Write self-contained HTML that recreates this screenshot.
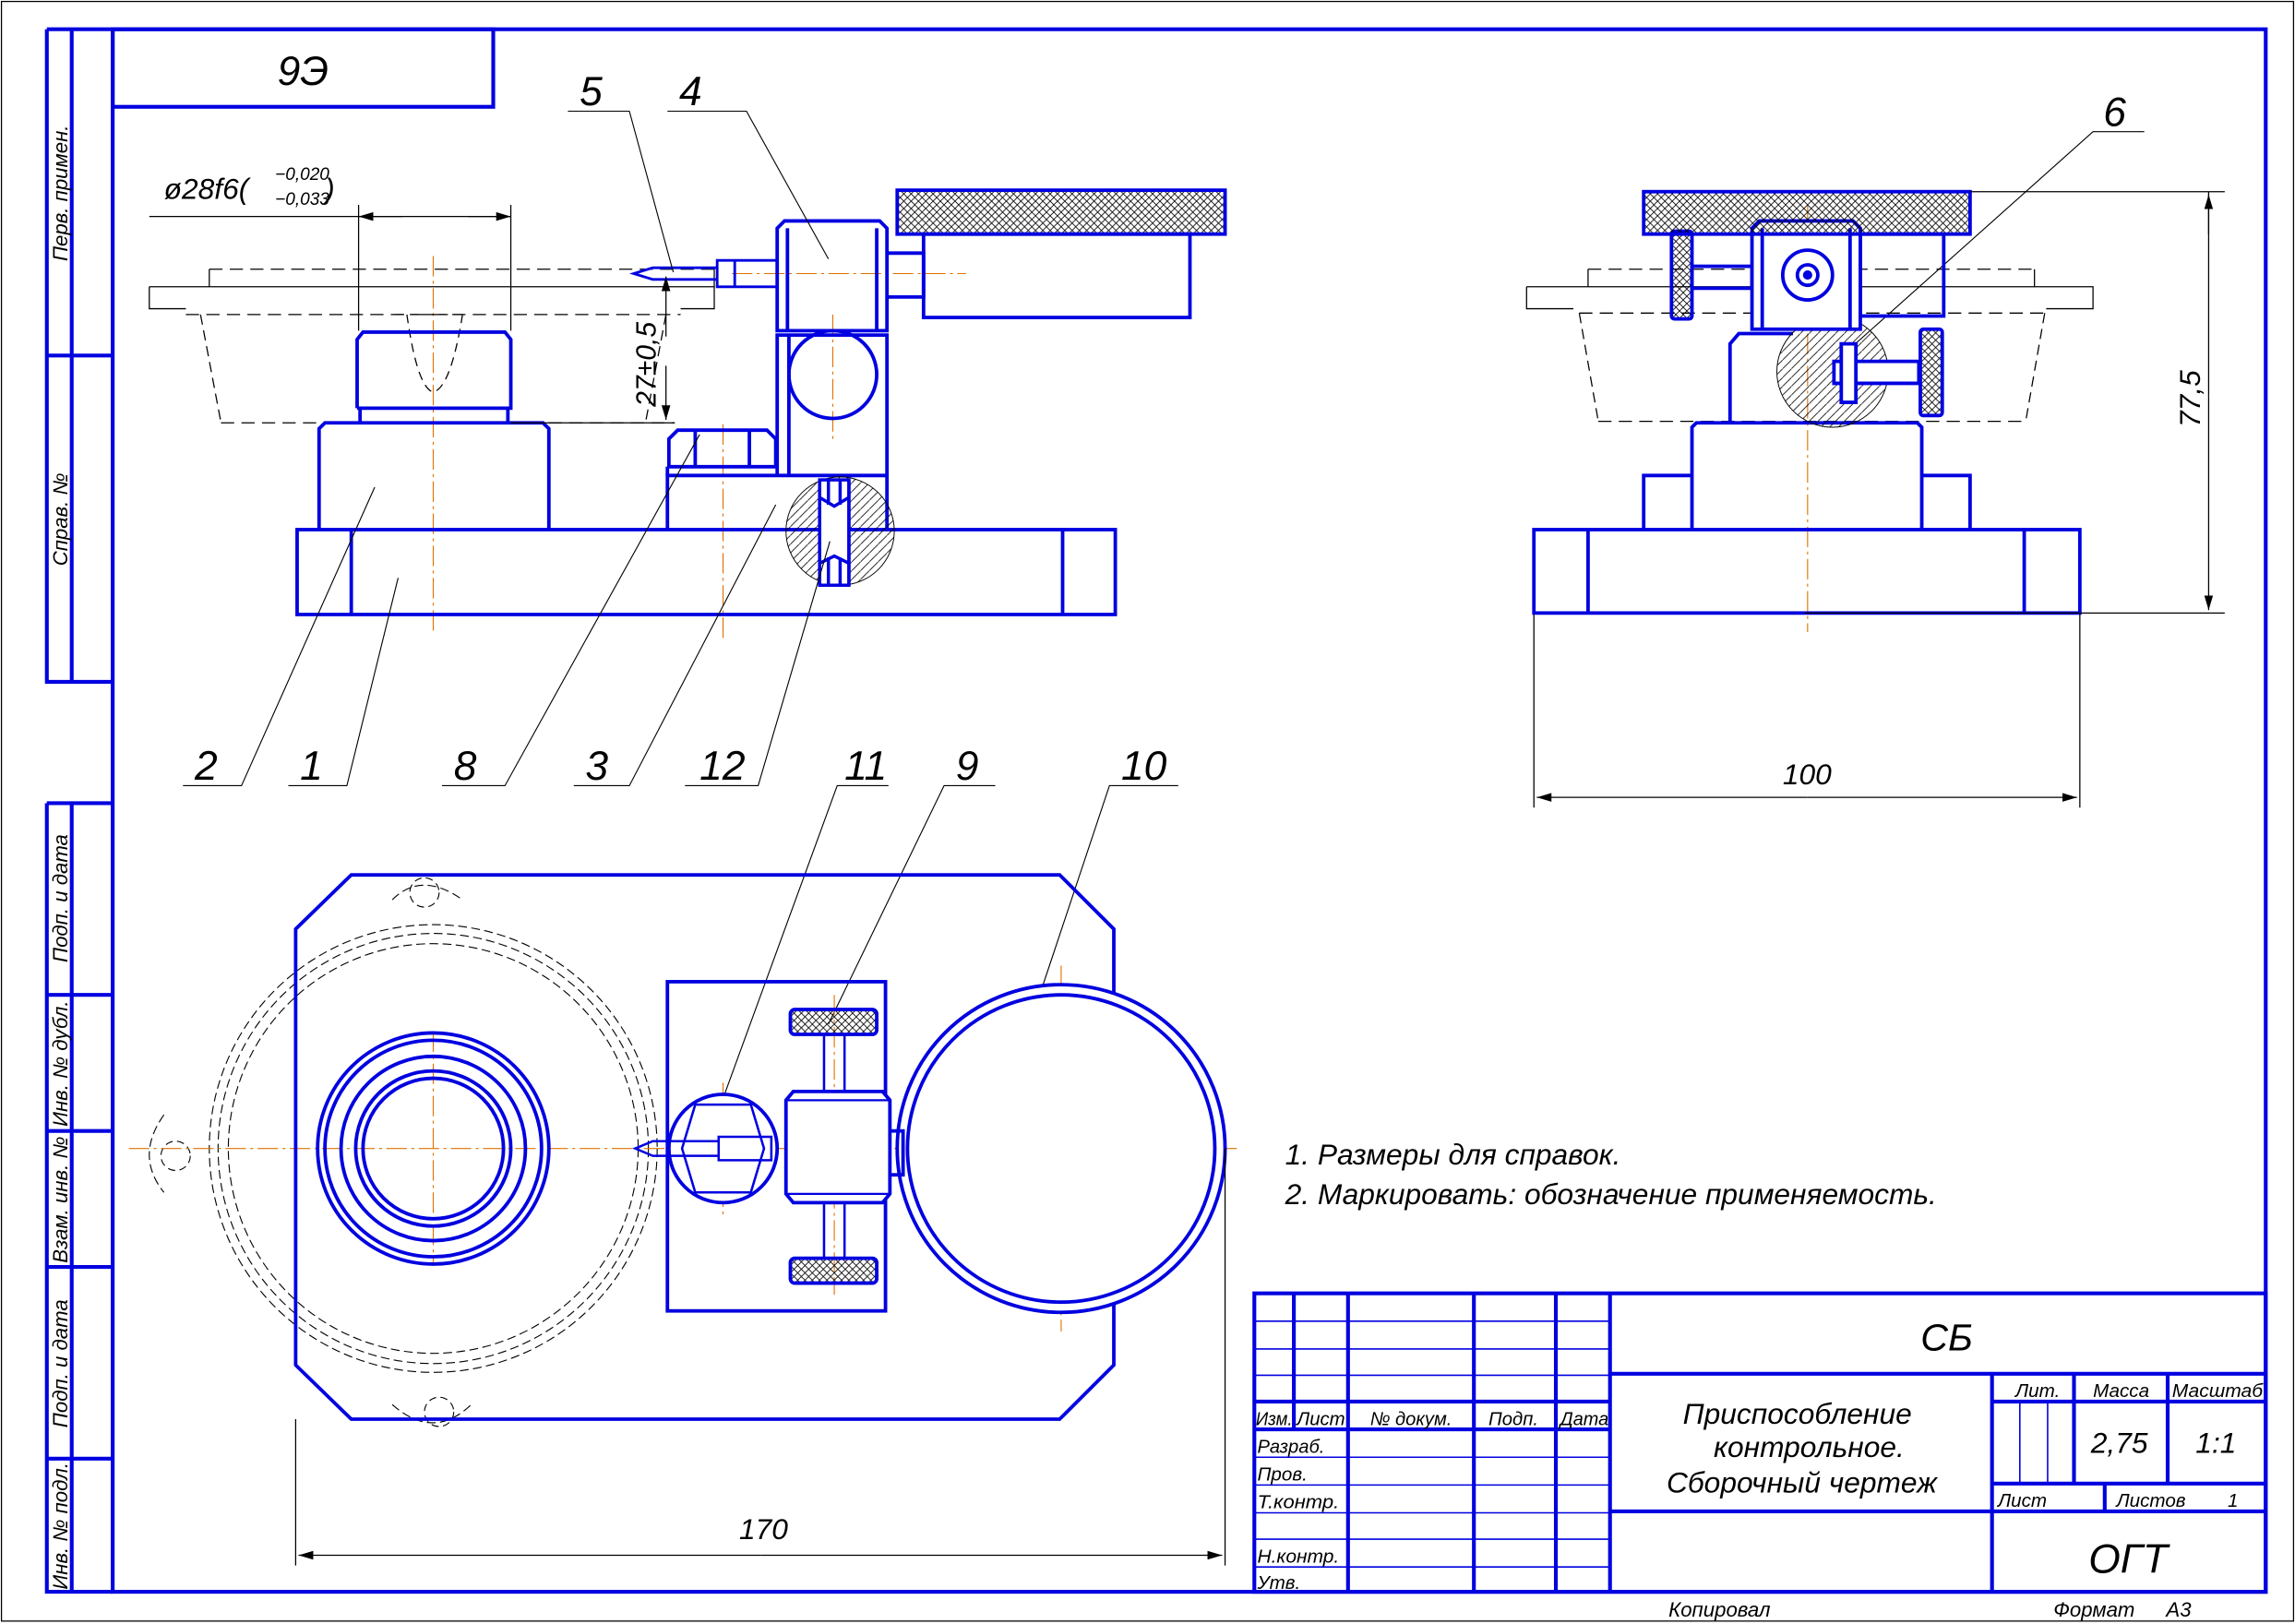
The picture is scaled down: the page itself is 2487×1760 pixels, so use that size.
<!DOCTYPE html>
<html><head><meta charset="utf-8"><style>
html,body{margin:0;padding:0;background:#fff;}
svg{display:block;}
text{font-family:"Liberation Sans","DejaVu Sans",sans-serif;font-style:italic;fill:#000;}
</style></head><body>
<svg width="2487" height="1760" viewBox="0 0 1568 1110" preserveAspectRatio="none" xmlns="http://www.w3.org/2000/svg">
<defs>
<pattern id="knurl" width="5" height="5" patternUnits="userSpaceOnUse">
<path d="M0,0 L5,5 M5,0 L0,5" stroke="#000" stroke-width="0.5"/>
</pattern>
<pattern id="hatch" width="6" height="6" patternUnits="userSpaceOnUse">
<path d="M-1,7 L7,-1" stroke="#000" stroke-width="0.5"/>
</pattern>
<marker id="ar" viewBox="0 0 10 6" refX="10" refY="3" markerWidth="10" markerHeight="6" orient="auto" markerUnits="userSpaceOnUse">
<path d="M0,0 L10,3 L0,6 z" fill="#000"/>
</marker>
</defs>
<rect width="1568" height="1110" fill="#fff"/>
<rect x="1" y="1" width="1566" height="1107" fill="none" stroke="#000" stroke-width="0.8"/>

<!-- main frame -->
<g fill="none" stroke="#0000e0" stroke-width="2.6">
<rect x="77" y="20" width="1471" height="1068"/>
<path d="M32,20 V466 H77 M49,20 V466 M32,20 H77 M32,243 H77"/>
<path d="M32,549 V1088 H77 M49,549 V1088 M32,549 H77 M32,680 H77 M32,773 H77 M32,866 H77 M32,997 H77"/>
<rect x="77" y="20" width="260" height="53"/>
</g>
<g font-size="14">
<text transform="translate(46,132) rotate(-90)" text-anchor="middle">Перв. примен.</text>
<text transform="translate(46,355) rotate(-90)" text-anchor="middle">Справ. №</text>
<text transform="translate(46,614) rotate(-90)" text-anchor="middle">Подп. и дата</text>
<text transform="translate(46,727) rotate(-90)" text-anchor="middle">Инв. № дубл.</text>
<text transform="translate(46,820) rotate(-90)" text-anchor="middle">Взам. инв. №</text>
<text transform="translate(46,932) rotate(-90)" text-anchor="middle">Подп. и дата</text>
<text transform="translate(46,1043) rotate(-90)" text-anchor="middle">Инв. № подл.</text>
</g>
<text x="207" y="58" font-size="28" text-anchor="middle">9Э</text>

<!-- title block -->
<g fill="none" stroke="#0000e0">
<g stroke-width="2.6">
<rect x="857" y="884" width="691" height="204"/>
<path d="M857,958 H1100 M857,977 H1100 M884,884 V977 M921,884 V1088 M1007,884 V1088 M1063,884 V1088 M1100,884 V1088"/>
<path d="M1100,939 H1548 M1361,939 V1088 M1417,939 V1014 M1481,939 V1014 M1361,958 H1548 M1361,1014 H1548 M1361,1033 H1548 M1100,1033 H1361 M1438,1014 V1033"/>
</g>
<g stroke-width="1">
<path d="M857,903 H1100 M857,922 H1100 M857,940 H1100 M857,996 H1100 M857,1015 H1100 M857,1034 H1100 M857,1052 H1100 M857,1071 H1100"/>
<path d="M1380,958 V1014 M1399,958 V1014"/>
</g>
</g>
<g font-size="13">
<text x="858" y="974" textLength="25" lengthAdjust="spacingAndGlyphs">Изм.</text>
<text x="886" y="974" textLength="33" lengthAdjust="spacingAndGlyphs">Лист</text>
<text x="936" y="974" textLength="56" lengthAdjust="spacingAndGlyphs">№ докум.</text>
<text x="1017" y="974" textLength="34" lengthAdjust="spacingAndGlyphs">Подп.</text>
<text x="1066" y="974" textLength="33" lengthAdjust="spacingAndGlyphs">Дата</text>
<text x="859" y="993" textLength="46" lengthAdjust="spacingAndGlyphs">Разраб.</text>
<text x="859" y="1012">Пров.</text>
<text x="859" y="1031" textLength="56" lengthAdjust="spacingAndGlyphs">Т.контр.</text>
<text x="859" y="1068" textLength="56" lengthAdjust="spacingAndGlyphs">Н.контр.</text>
<text x="859" y="1086">Утв.</text>
<text x="1377" y="955">Лит.</text>
<text x="1430" y="955">Масса</text>
<text x="1484" y="955" textLength="62" lengthAdjust="spacingAndGlyphs">Масштаб</text>
<text x="1365" y="1030">Лист</text>
<text x="1446" y="1030">Листов</text>
<text x="1522" y="1030">1</text>
</g>
<text x="1330" y="923" font-size="26" text-anchor="middle">СБ</text>
<g font-size="20" text-anchor="middle">
<text x="1228" y="973">Приспособление</text>
<text x="1236" y="996">контрольное.</text>
<text x="1231" y="1020">Сборочный чертеж</text>
</g>
<text x="1448" y="993" font-size="20" text-anchor="middle">2,75</text>
<text x="1514" y="993" font-size="20" text-anchor="middle">1:1</text>
<text x="1454" y="1075" font-size="28" text-anchor="middle">ОГТ</text>
<text x="1140" y="1105" font-size="14">Копировал</text>
<text x="1403" y="1105" font-size="14">Формат</text>
<text x="1480" y="1105" font-size="14">А3</text>

<!-- ===== FRONT VIEW ===== -->
<g stroke="#e07000" stroke-width="0.7" stroke-dasharray="14,3,2,3" fill="none">
<path d="M296,175 V432 M494,290 V436 M569,215 V300 M569,330 V400 M500,187 H660"/>
</g>
<g fill="none" stroke="#000" stroke-width="0.8">
<path d="M102,196 H488 V211 H465 M102,196 V211 H127"/>
<path d="M143,196 V184 M488,196 V184" />
<path d="M137,215 L151,289 M455,215 L441,289" stroke-dasharray="7,4"/>
<path d="M143,184 H488 M127,215 H465 M151,289 H461" stroke-dasharray="9,5"/>
<path d="M270,215 H320 M278,215 Q285,265 296,268 Q308,265 316,215" stroke-dasharray="6,4"/>
</g>
<g fill="none" stroke="#0000e0" stroke-width="2.4">
<path d="M244,279 V232 L248,227 H345 L349,232 V279 H244 M246,279 V289 M347,279 V289"/>
<path d="M218,362 V293 L222,289 H371 L375,293 V362"/>
<rect x="203" y="362" width="559" height="58"/>
<path d="M240,362 V420 M726,362 V420"/>
<path d="M456,362 V325 H606 V362"/>
<path d="M457,319 V300 L463,294 H524 L530,300 V319 Z M475,294 V319 M512,294 V319 M456,325 V319"/>
<path d="M531,325 V229 H606 V325 M539,229 V325"/>
<circle cx="569" cy="256" r="30"/>
<path d="M531,226 V156 L536,151 H601 L606,156 V226 Z M538,156 V226 M599,156 V226"/>
<path d="M606,173 H631 V203 H606"/>
<rect x="631" y="160" width="182" height="57"/>
<rect x="613" y="130" width="224" height="30" fill="url(#knurl)"/>
<path d="M531,196 H502 V178 H531 M502,178 H490 V196 H502 M490,183 H446 L433,187 L446,191 H490" stroke-width="1.8"/>
</g>
<g stroke="#0000e0" stroke-width="2.2">
<circle cx="574" cy="363" r="37" fill="url(#hatch)" stroke="#000" stroke-width="0.6"/>
<rect x="560" y="328" width="20" height="72" fill="#fff"/>
<path d="M560,328 V400 M580,328 V400 M560,340 L570,346 L580,340 M560,385 L570,380 L580,385 M566,328 V345 M574,328 V345 M566,381 V400 M574,381 V400" fill="none"/>
</g>
<g stroke="#000" stroke-width="0.8" fill="none">
<path d="M245,140 V226 M349,140 V226"/>
<path d="M102,148 H349"/>
<path d="M275,148 H245" marker-end="url(#ar)"/>
<path d="M320,148 H349" marker-end="url(#ar)"/>
<path d="M349,289 H461"/>
<path d="M455,230 V189" marker-end="url(#ar)"/>
<path d="M455,250 V287" marker-end="url(#ar)"/>
</g>
<text x="112" y="136" font-size="20">ø28f6(</text>
<text x="188" y="123" font-size="12">−0,020</text>
<text x="188" y="140" font-size="12">−0,033</text>
<text x="222" y="136" font-size="20">)</text>
<text transform="translate(448,278) rotate(-90)" font-size="19">27±0,5</text>

<!-- leaders -->
<g stroke="#000" stroke-width="0.7" fill="none">
<path d="M388,76 H430 L460,186"/>
<path d="M456,76 H510 L566,177"/>
<path d="M125,537 H165 L256,333"/>
<path d="M197,537 H237 L272,395"/>
<path d="M302,537 H345 L478,297"/>
<path d="M392,537 H430 L530,345"/>
<path d="M468,537 H518 L567,370"/>
<path d="M607,537 H572 L495,748"/>
<path d="M680,537 H645 L566,700"/>
<path d="M805,537 H758 L692,735"/>
<path d="M1465,90 H1430 L1262,240"/>
</g>
<g font-size="28">
<text x="396" y="72">5</text><text x="464" y="72">4</text>
<text x="133" y="533">2</text><text x="205" y="533">1</text>
<text x="310" y="533">8</text><text x="400" y="533">3</text>
<text x="478" y="533">12</text><text x="577" y="533">11</text>
<text x="653" y="533">9</text><text x="766" y="533">10</text>
<text x="1437" y="86">6</text>
</g>

<!-- ===== SIDE VIEW ===== -->
<path d="M1235,140 V432" stroke="#e07000" stroke-width="0.7" stroke-dasharray="14,3,2,3"/>
<g fill="none" stroke="#000" stroke-width="0.8">
<path d="M1043,196 H1430 V211 H1398 M1043,196 V211 H1075 M1085,196 V184 M1390,196 V184"/>
<path d="M1085,184 H1390 M1079,214 H1397 M1092,288 H1384" stroke-dasharray="9,5"/>
<path d="M1079,214 L1092,288 M1397,214 L1384,288" stroke-dasharray="7,4"/>
</g>
<g fill="none" stroke="#0000e0" stroke-width="2.4">
<rect x="1048" y="362" width="373" height="57"/>
<path d="M1085,362 V419 M1383,362 V419"/>
<path d="M1123,362 V325 H1156 M1346,362 V325 H1313"/>
<path d="M1156,362 V292 L1159,289 H1310 L1313,292 V362"/>
<rect x="1271" y="160" width="57" height="56"/>
<rect x="1156" y="182" width="41" height="15"/>
<rect x="1142" y="158" width="14" height="60" rx="2" fill="url(#knurl)"/>
<path d="M1182,288 V235 L1188,228 H1225"/>
<circle cx="1252" cy="254" r="38" fill="url(#hatch)" stroke="#000" stroke-width="0.6"/>
<path d="M1253,247 H1311 V262 H1253 Z" fill="#fff"/>
<path d="M1258,235 H1268 V275 H1258 Z" fill="#fff"/>
<rect x="1312" y="225" width="15" height="59" rx="2" fill="url(#knurl)"/>
<path d="M1197,225 V156 L1202,151 H1266 L1271,156 V225 Z M1204,156 V225 M1264,156 V225" fill="#fff"/>
<circle cx="1235" cy="188" r="17"/>
<circle cx="1235" cy="188" r="7"/>
<circle cx="1235" cy="188" r="2" fill="#0000e0"/>
<rect x="1123" y="131" width="223" height="29" fill="url(#knurl)"/>
</g>
<g stroke="#000" stroke-width="0.8" fill="none">
<path d="M1346,131 H1520 M1233,419 H1520 M1509,160 V131" />
<path d="M1509,270 V133" marker-end="url(#ar)"/>
<path d="M1509,270 V417" marker-end="url(#ar)"/>
<path d="M1048,420 V552 M1421,420 V552"/>
<path d="M1235,545 H1050" marker-end="url(#ar)"/>
<path d="M1235,545 H1419" marker-end="url(#ar)"/>
</g>
<text transform="translate(1503,292) rotate(-90)" font-size="20">77,5</text>
<text x="1218" y="536" font-size="20">100</text>

<!-- ===== PLAN VIEW ===== -->
<g fill="none" stroke="#000" stroke-width="0.7">
<circle cx="296" cy="785" r="147" stroke-dasharray="6,3"/>
<circle cx="296" cy="785" r="153" stroke-dasharray="6,3"/>
<circle cx="296" cy="785" r="140" stroke-dasharray="6,3"/>
<path d="M268,615 Q288,595 316,615 M268,960 Q296,985 322,960 M112,762 Q92,790 112,815" stroke-dasharray="6,3"/>
<circle cx="290" cy="610" r="10" stroke-dasharray="5,3"/>
<circle cx="300" cy="965" r="10" stroke-dasharray="5,3"/>
<circle cx="120" cy="790" r="10" stroke-dasharray="5,3"/>
</g>
<g stroke="#e07000" stroke-width="0.7" stroke-dasharray="14,3,2,3" fill="none">
<path d="M88,785 H845 M296,705 V865 M725,660 V910 M494,740 V830 M570,680 V885"/>
</g>
<g fill="none" stroke="#0000e0" stroke-width="2.4">
<path d="M240,598 H724 L761,635 V933 L724,970 H240 L202,933 V635 Z"/>
<circle cx="296" cy="785" r="79"/>
<circle cx="296" cy="785" r="74"/>
<circle cx="296" cy="785" r="63"/>
<circle cx="296" cy="785" r="53"/>
<circle cx="296" cy="785" r="48"/>
<rect x="456" y="671" width="149" height="225"/>
<circle cx="725" cy="785" r="112" fill="#fff"/>
<circle cx="725" cy="785" r="105"/>
<rect x="605" y="773" width="12" height="30"/>
<circle cx="494" cy="785" r="37" fill="#fff"/>
<path d="M475,755 H513 L522,785 L513,815 H475 L466,785 Z" stroke-width="1.6"/>
<path d="M542,746 H603 L608,752 V816 L603,822 H542 L537,816 V752 Z" fill="#fff"/>
<path d="M537,752 H608 M537,816 H608" stroke-width="1.4"/>
<path d="M563,707 V746 M577,707 V746 M563,822 V860 M577,822 V860" stroke-width="1.6"/>
<rect x="540" y="690" width="59" height="17" rx="3" fill="url(#knurl)"/>
<rect x="540" y="860" width="59" height="17" rx="3" fill="url(#knurl)"/>
<path d="M527,777 V793 H491 V777 Z M491,780 H446 L434,785 L446,790 H491" stroke-width="1.6"/>
</g>
<g stroke="#000" stroke-width="0.8" fill="none">
<path d="M202,970 V1070 M837,785 V1070"/>
<path d="M520,1063 H204" marker-end="url(#ar)"/>
<path d="M520,1063 H835" marker-end="url(#ar)"/>
</g>
<text x="505" y="1052" font-size="20">170</text>

<g font-size="20">
<text x="878" y="796">1. Размеры для справок.</text>
<text x="878" y="823">2. Маркировать: обозначение применяемость.</text>
</g>
</svg>
</body></html>
